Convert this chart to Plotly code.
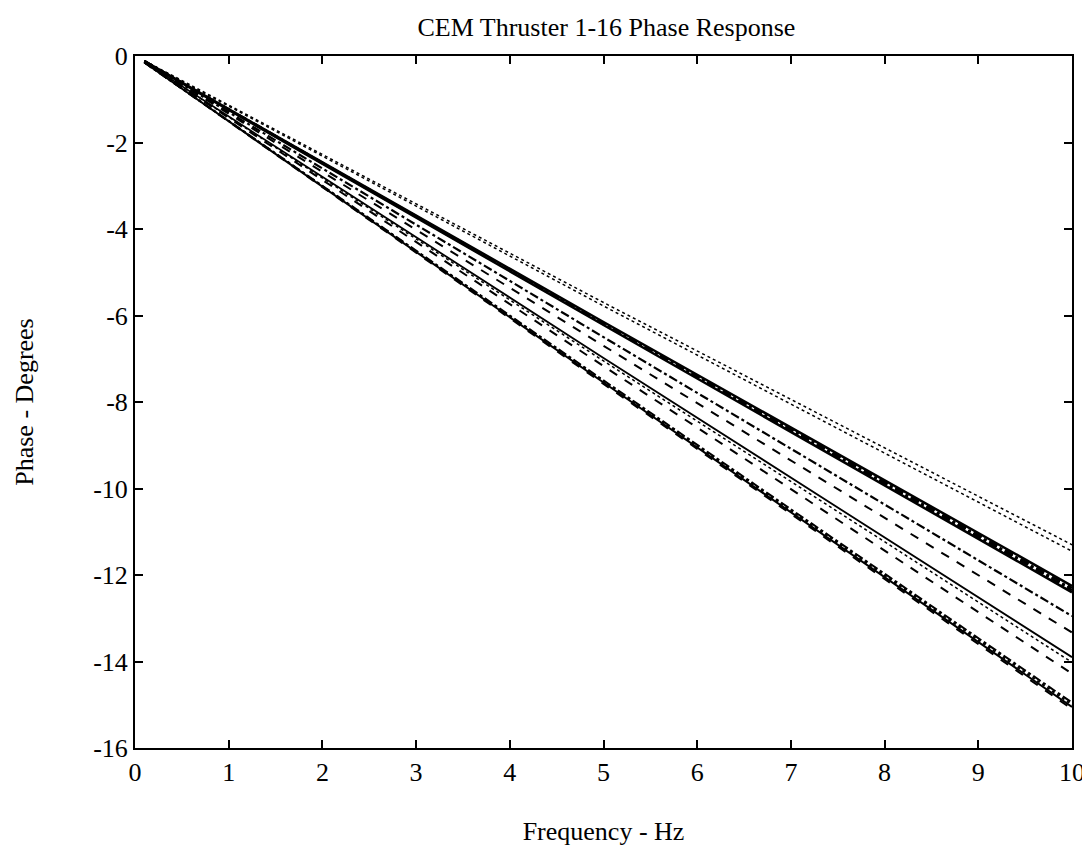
import plotly.graph_objects as go

# Frequency sample points (Hz) where each trace is read
freq = [0.1, 5.0, 10.0]

# Phase values (degrees), one list per thruster
series = {
    "T1":  [-0.11, -5.70, -11.30],
    "T2":  [-0.12, -5.78, -11.45],
    "T3":  [-0.12, -6.15, -12.25],
    "T4":  [-0.12, -6.18, -12.30],
    "T5":  [-0.12, -6.20, -12.35],
    "T6":  [-0.13, -6.22, -12.40],
    "T7":  [-0.12, -6.18, -12.32],
    "T8":  [-0.13, -6.50, -12.95],
    "T9":  [-0.13, -6.70, -13.33],
    "T10": [-0.14, -6.98, -13.90],
    "T11": [-0.14, -7.05, -14.02],
    "T12": [-0.14, -7.17, -14.28],
    "T13": [-0.15, -7.55, -15.05],
    "T14": [-0.15, -7.50, -14.95],
    "T15": [-0.15, -7.52, -15.00],
    "T16": [-0.15, -7.58, -15.10],
}
styles = {
    "T1": ("dot", 1.5), "T2": ("dot", 1.5),
    "T3": ("solid", 2.5), "T4": ("dash", 2.5), "T5": ("dashdot", 2.5),
    "T6": ("solid", 2.5), "T7": ("dot", 2.5),
    "T8": ("dashdot", 2.2), "T9": ("dash", 2.0),
    "T10": ("solid", 1.8), "T11": ("dot", 1.5), "T12": ("dash", 2.0),
    "T13": ("solid", 2.0), "T14": ("dashdot", 2.0), "T15": ("dot", 2.0),
    "T16": ("dash", 2.0),
}

x_ticks = [0, 1, 2, 3, 4, 5, 6, 7, 8, 9, 10]
y_ticks = [0, -2, -4, -6, -8, -10, -12, -14, -16]

fig = go.Figure()
for name, vals in series.items():
    dash, w = styles[name]
    fig.add_trace(go.Scatter(x=freq, y=vals, mode="lines", name=name,
                             line=dict(color="black", width=w, dash=dash),
                             showlegend=False))

font_family = "Liberation Serif, Times New Roman, serif"
fig.update_layout(
    width=1090, height=845,
    paper_bgcolor="white", plot_bgcolor="white",
    margin=dict(l=127, r=26, t=48, b=100),
    font=dict(family=font_family, color="black", size=26),
    title=dict(text="CEM Thruster 1-16 Phase Response", x=0.549, xanchor="center",
               y=0.978, yanchor="middle", font=dict(size=26, family=font_family)),
    showlegend=False,
)
fig.update_xaxes(range=[0, 10], tickvals=x_ticks, ticktext=[str(t) for t in x_ticks],
                 ticks="inside", ticklen=8, tickwidth=1.5, tickcolor="black",
                 showline=True, linecolor="black", linewidth=2, mirror="ticks",
                 showgrid=False, zeroline=False,
                 title=dict(text="Frequency - Hz", standoff=36, font=dict(size=26)),
                 tickfont=dict(size=26))
fig.update_yaxes(range=[-16, 0], tickvals=y_ticks, ticktext=[str(t) for t in y_ticks],
                 ticks="inside", ticklen=8, tickwidth=1.5, tickcolor="black",
                 showline=True, linecolor="black", linewidth=2, mirror="ticks",
                 showgrid=False, zeroline=False,
                 title=dict(text="Phase - Degrees", standoff=52, font=dict(size=26)),
                 tickfont=dict(size=26))

fig.write_html("out.html")
